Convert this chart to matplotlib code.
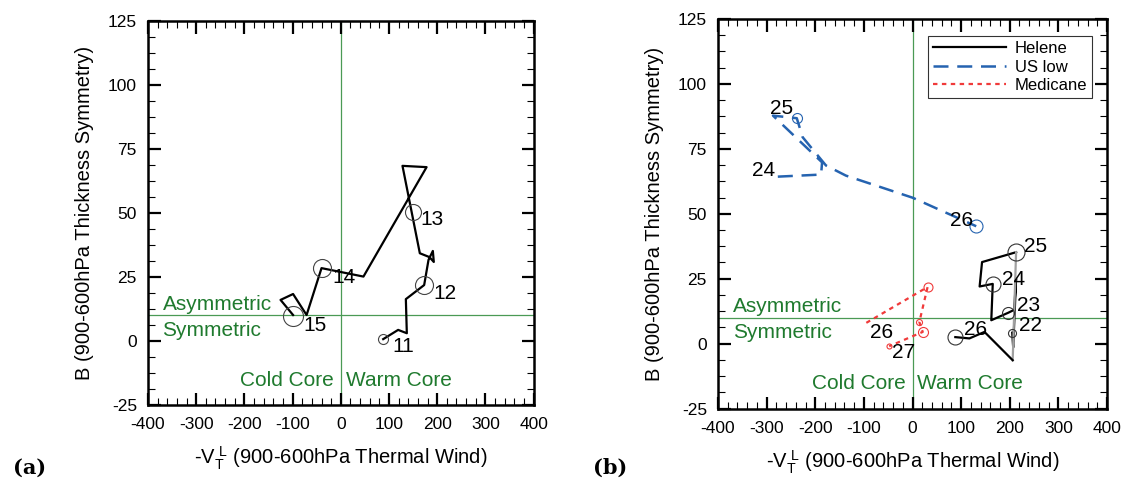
import matplotlib
matplotlib.use("Agg")
import matplotlib.pyplot as plt
from matplotlib.ticker import MultipleLocator, AutoMinorLocator

plt.rcParams['font.family'] = ['Liberation Sans', 'DejaVu Sans']
plt.rcParams['mathtext.default'] = 'regular'
plt.rcParams['axes.unicode_minus'] = False

# ---- panel (a): single track ----
a_x = [88, 119, 137, 135, 173, 182, 191, 193, 184, 164, 128, 178, 47, -40, -71, -99, -125, -99]
a_y = [0.7, 4.3, 3.0, 16.3, 21.8, 31.6, 35.1, 30.8, 32.7, 34.2, 68.3, 67.8, 25.1, 28.4, 10.1, 18.3, 16.0, 10.1]
a_circ_x = [88, 173, 150, -40, -99]
a_circ_y = [0.7, 21.8, 50.4, 28.4, 9.7]
a_circ_d = [10, 18, 16, 18, 20]
a_days = ['11', '12', '13', '14', '15']
a_lab_x = [106, 193, 166, -18, -78]
a_lab_y = [-2.2, 18.5, 47.2, 24.8, 6.2]

# ---- panel (b): Helene ----
hel_x = [205, 207, 213, 209, 197, 162, 165, 138, 143, 213]
hel_y = [4.2, -1.5, 25, 13, 11.9, 9, 23, 22, 31.4, 35.2]
hel_gray_x = [213, 206]
hel_gray_y = [35.2, -6.4]
hel_tail_x = [206, 148, 117, 88]
hel_tail_y = [-6.4, 4.5, 2.0, 2.5]
hel_circ_x = [205, 197, 165, 213, 88]
hel_circ_y = [4.2, 11.9, 23, 35.2, 2.5]
hel_circ_d = [8, 12, 15, 17, 15]
hel_days = ['22', '23', '24', '25', '26']
hel_lab_x = [220, 215, 185, 230, 106]
hel_lab_y = [6.8, 14.5, 24.7, 37.5, 5.5]

# ---- panel (b): US low ----
us_x = [-277, -188, -186, -287, -238, -226, -178, -137, 0, 131]
us_y = [64.3, 65.1, 69.8, 87.8, 86.8, 79.5, 68.6, 64.7, 56.2, 45.2]
us_circ_x = [-238, 131]
us_circ_y = [86.8, 45.2]
us_circ_d = [10, 13]
us_days = ['24', '25', '26']
us_lab_x = [-283, -294, 77]
us_lab_y = [66.8, 90.4, 47.6]

# ---- panel (b): Medicane ----
med_x = [-95, 31, 14, 21, -48]
med_y = [8.0, 21.8, 8.3, 4.5, -1.0]
med_circ_x = [31, 14, 21, -48]
med_circ_y = [21.8, 8.3, 4.5, -1.0]
med_circ_d = [9, 6, 10, 5]
med_days = ['26', '27']
med_lab_x = [-88, -42]
med_lab_y = [4.2, -3.5]

green = '#1f7a2e'
blue = '#2563b0'
red = '#f03a3a'
fs = 15


def setup(ax):
    ax.set_xlim(-400, 400)
    ax.set_ylim(-25, 125)
    ax.xaxis.set_major_locator(MultipleLocator(100))
    ax.xaxis.set_minor_locator(MultipleLocator(20))
    ax.yaxis.set_major_locator(MultipleLocator(25))
    ax.yaxis.set_minor_locator(AutoMinorLocator(4))
    ax.tick_params(which='both', direction='in', top=True, right=True, labelsize=12.5)
    ax.tick_params(which='major', length=9, width=1.6)
    ax.tick_params(which='minor', length=5, width=0.8)
    ax.tick_params(axis='x', pad=9)
    ax.tick_params(axis='y', pad=8)
    for s in ax.spines.values():
        s.set_linewidth(1.8)
    ax.axhline(10, color='#4a9a55', lw=0.9, zorder=1)
    ax.axvline(0, color='#4a9a55', lw=0.9, zorder=1)
    ax.text(-370, 14.3, 'Asymmetric', color=green, fontsize=fs, va='center')
    ax.text(-370, 4.2, 'Symmetric', color=green, fontsize=fs, va='center')
    ax.text(-14, -15.5, 'Cold Core', color=green, fontsize=fs, va='center', ha='right')
    ax.text(10, -15.5, 'Warm Core', color=green, fontsize=fs, va='center', ha='left')
    ax.set_xlabel(r'-$V_T^{\ L}$ (900-600hPa Thermal Wind)', fontsize=14.5, labelpad=9)
    ax.set_ylabel('B (900-600hPa Thickness Symmetry)', fontsize=14.5, labelpad=10)


def circles(ax, xs, ys, ds, color):
    for x, y, d in zip(xs, ys, ds):
        ax.plot(x, y, 'o', ms=d * 0.72, mfc='none', mec=color, mew=0.8, zorder=4)


def labels(ax, xs, ys, texts, ha='left'):
    for x, y, t in zip(xs, ys, texts):
        ax.text(x, y, t, fontsize=fs, ha=ha, va='center', zorder=5)


fig = plt.figure(figsize=(11.24, 4.83), dpi=100)
ax1 = fig.add_axes([0.1317, 0.1615, 0.343, 0.796])
ax2 = fig.add_axes([0.6388, 0.1542, 0.3461, 0.8064])

setup(ax1)
ax1.plot(a_x, a_y, color='black', lw=1.6, zorder=3)
circles(ax1, a_circ_x, a_circ_y, a_circ_d, '#444444')
labels(ax1, a_lab_x, a_lab_y, a_days)

setup(ax2)
ax2.plot(hel_x, hel_y, color='black', lw=1.6, zorder=3, label='Helene')
ax2.plot(hel_gray_x, hel_gray_y, color='#a0a0a0', lw=1.6, zorder=3)
ax2.plot(hel_tail_x, hel_tail_y, color='black', lw=1.6, zorder=3)
circles(ax2, hel_circ_x, hel_circ_y, hel_circ_d, '#333333')
labels(ax2, hel_lab_x, hel_lab_y, hel_days)

ax2.plot(us_x, us_y, color=blue, lw=1.8, ls=(0, (6, 3.5)), zorder=3, label='US low')
circles(ax2, us_circ_x, us_circ_y, us_circ_d, blue)
labels(ax2, us_lab_x[:1], us_lab_y[:1], us_days[:1], ha='right')
labels(ax2, us_lab_x[1:], us_lab_y[1:], us_days[1:])

ax2.plot(med_x, med_y, color=red, lw=1.6, ls=(0, (2, 2)), zorder=3, label='Medicane')
circles(ax2, med_circ_x, med_circ_y, med_circ_d, red)
labels(ax2, med_lab_x, med_lab_y, med_days)

leg = ax2.legend(loc='upper right', bbox_to_anchor=(0.962, 0.956), fontsize=12,
                 handlelength=4.4, frameon=True, fancybox=False, borderpad=0.3,
                 labelspacing=0.2, handletextpad=0.5, borderaxespad=0)
leg.get_frame().set_edgecolor('black')
leg.get_frame().set_linewidth(0.8)

fig.text(0.012, 0.02, '(a)', fontsize=15, fontweight='bold', family='DejaVu Serif')
fig.text(0.528, 0.02, '(b)', fontsize=15, fontweight='bold', family='DejaVu Serif')

fig.savefig('out.png', dpi=100)
